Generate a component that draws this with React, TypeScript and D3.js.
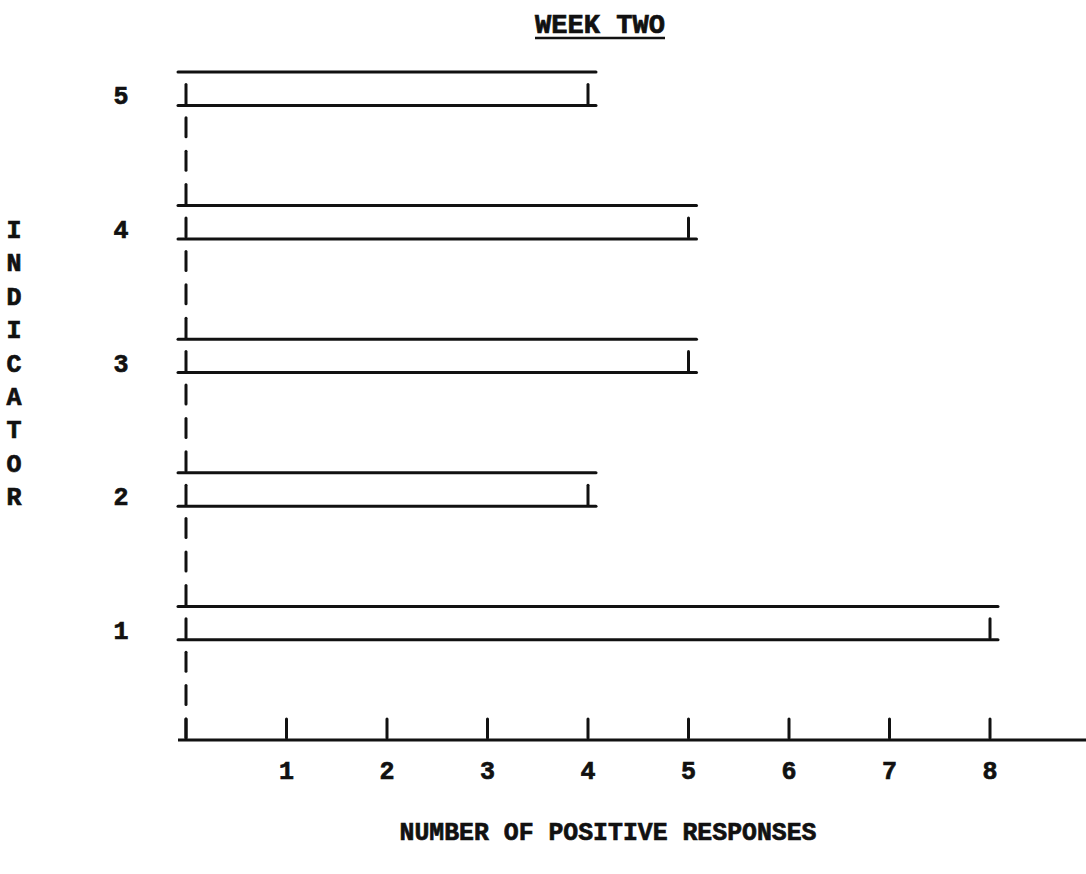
import React from "react";
import * as d3 from "d3";

const indicators = [1, 2, 3, 4, 5];
const responses = [8, 4, 5, 5, 4];
const xTicks = [0, 1, 2, 3, 4, 5, 6, 7, 8];
const xTickLabels = ["", "1", "2", "3", "4", "5", "6", "7", "8"];
const yTitle = ["I", "N", "D", "I", "C", "A", "T", "O", "R"];
const title = "WEEK TWO";
const xTitle = "NUMBER OF POSITIVE RESPONSES";

const W = 1086;
const H = 874;
const FONT = "'Liberation Mono', 'DejaVu Sans Mono', monospace";
const INK = "#111";

export default function App() {
  const x = d3.scaleLinear().domain([0, 8]).range([186, 990]);
  // text rows of the line printer grid (baseline / underline positions)
  const row = d3.scaleLinear().domain([0, 20]).range([72, 740]);
  // indicator value -> its row index
  const indRow = d3.scaleLinear().domain([5, 1]).range([1, 17]);
  const axisRow = 20;
  const rows = d3.range(1, axisRow + 1);
  const x0 = x(0);
  const half = 8;
  const dashTop = 21;
  const dashBot = 2;
  const sw = 3;
  const textStyle = { stroke: INK, strokeWidth: 0.7 };

  return (
    <svg width={W} height={H} style={{ position: "absolute", left: 0, top: 0, background: "#fff" }}>
      <rect x={0} y={0} width={W} height={H} fill="#fff" />
      {/* title */}
      <text x={600} y={33} fontFamily={FONT} fontWeight="bold" fontSize={27} textAnchor="middle" fill={INK}
        textLength={130} lengthAdjust="spacingAndGlyphs" style={textStyle}>{title}</text>
      <line x1={535} x2={665} y1={38} y2={38} stroke={INK} strokeWidth={2.5} />

      {/* y axis dashes */}
      {rows.map((r) => (
        <line key={"d" + r} x1={x0} x2={x0} y1={row(r) - dashTop} y2={row(r) - dashBot}
          stroke={INK} strokeWidth={sw} strokeLinecap="round" />
      ))}

      {/* bars */}
      {indicators.map((ind, i) => {
        const r = indRow(ind);
        const v = responses[i];
        return (
          <g key={"b" + ind}>
            <line x1={x0 - half} x2={x(v) + half} y1={row(r - 1)} y2={row(r - 1)}
              stroke={INK} strokeWidth={sw} strokeLinecap="round" />
            <line x1={x0 - half} x2={x(v) + half} y1={row(r)} y2={row(r)}
              stroke={INK} strokeWidth={sw} strokeLinecap="round" />
            <line x1={x(v)} x2={x(v)} y1={row(r) - dashTop} y2={row(r) - dashBot}
              stroke={INK} strokeWidth={sw} strokeLinecap="round" />
            <text x={121} y={row(r) - 1} fontFamily={FONT} fontWeight="bold" fontSize={25}
              textAnchor="middle" fill={INK} style={textStyle}>{String(ind)}</text>
          </g>
        );
      })}

      {/* x axis */}
      <line x1={x0 - half} x2={W} y1={row(axisRow)} y2={row(axisRow)} stroke={INK} strokeWidth={sw} />
      {xTicks.map((t, i) => (
        <g key={"t" + t}>
          <line x1={x(t)} x2={x(t)} y1={row(axisRow) - dashTop} y2={row(axisRow) - dashBot}
            stroke={INK} strokeWidth={sw} strokeLinecap="round" />
          {xTickLabels[i] && (
            <text x={x(t)} y={779} fontFamily={FONT} fontWeight="bold" fontSize={25}
              textAnchor="middle" fill={INK} style={textStyle}>{xTickLabels[i]}</text>
          )}
        </g>
      ))}

      {/* x title */}
      <text x={608} y={840} fontFamily={FONT} fontWeight="bold" fontSize={26} textAnchor="middle" fill={INK}
        textLength={417} lengthAdjust="spacingAndGlyphs" style={textStyle}>{xTitle}</text>

      {/* vertical y title */}
      {yTitle.map((c, i) => (
        <text key={"y" + i} x={14} y={row(5 + i) - 1} fontFamily={FONT} fontWeight="bold" fontSize={25}
          textAnchor="middle" fill={INK} style={textStyle}>{c}</text>
      ))}
    </svg>
  );
}
